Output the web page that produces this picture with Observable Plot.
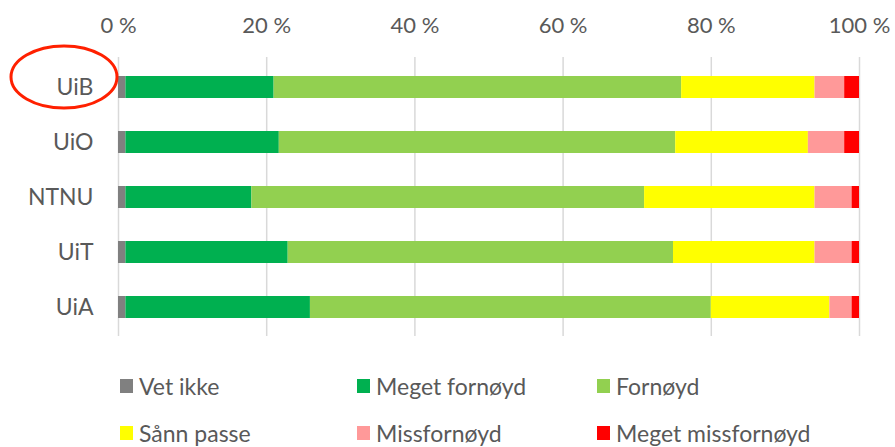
<!DOCTYPE html>
<html>
<head>
<meta charset="utf-8">
<script src="https://cdn.jsdelivr.net/npm/d3@7"></script>
<script src="https://cdn.jsdelivr.net/npm/@observablehq/plot@0.6"></script>
<style>
  html, body { margin: 0; padding: 0; background: #fff; }
  #wrap { position: relative; width: 895px; height: 447px; font-family: Lato, "Open Sans", sans-serif; color: #595959; }
  #legend { position: absolute; left: 0; top: 0; width: 895px; height: 447px; pointer-events: none; }
  .li { position: absolute; display: flex; align-items: center; font-size: 23px; line-height: 26px; white-space: nowrap; }
  .sw { width: 13px; height: 14px; margin-right: 6px; display: inline-block; }
</style>
</head>
<body>
<div id="wrap"><div id="chart"></div><div id="legend"></div></div>
<script>
const universities = ["UiB", "UiO", "NTNU", "UiT", "UiA"];
const categories = ["Vet ikke", "Meget fornøyd", "Fornøyd", "Sånn passe", "Missfornøyd", "Meget missfornøyd"];
const colors = ["#808080", "#00B050", "#92D050", "#FFFF00", "#FF9999", "#FF0000"];
const vetIkke = [1, 1, 1, 1, 1];
const megetFornoyd = [20, 20.7, 17, 21.9, 24.9];
const fornoyd = [55, 53.5, 53, 52, 54.1];
const sannPasse = [18, 17.9, 23, 19.1, 16];
const missfornoyd = [4, 4.9, 5, 5, 3];
const megetMissfornoyd = [2, 2, 1, 1, 1];
const xTicks = [0, 20, 40, 60, 80, 100];

const series = [vetIkke, megetFornoyd, fornoyd, sannPasse, missfornoyd, megetMissfornoyd];
const rows = [];
universities.forEach((u, i) => {
  categories.forEach((c, j) => rows.push({uni: u, category: c, value: series[j][i]}));
});

const chart = Plot.plot({
  width: 895,
  height: 347,
  marginLeft: 118,
  marginRight: 36,
  marginTop: 57,
  marginBottom: 11,
  style: {fontFamily: "Lato, 'Open Sans', sans-serif", color: "#595959", background: "#fff"},
  x: {domain: [0, 100], axis: null, label: null},
  y: {domain: universities, paddingInner: 0.605, paddingOuter: 0.3025, axis: null, label: null},
  color: {domain: categories, range: colors},
  marks: [
    Plot.gridX(xTicks, {stroke: "#d9d9d9", strokeOpacity: 1, strokeWidth: 1.5}),
    Plot.barX(rows, Plot.stackX({y: "uni", x: "value", fill: "category", order: null})),
    Plot.axisX({anchor: "top", ticks: xTicks, tickSize: 0, tickPadding: 25, tickFormat: d => d + " %", fontSize: 22, fill: "#595959", label: null}),
    Plot.axisY({tickSize: 0, tickPadding: 25, fontSize: 23, fill: "#595959", label: null})
  ]
});
document.getElementById("chart").appendChild(chart);

// annotation: red ellipse around UiB
d3.select(chart).append("ellipse")
  .attr("cx", 64).attr("cy", 77).attr("rx", 53).attr("ry", 31)
  .attr("fill", "none").attr("stroke", "#FF2000").attr("stroke-width", 3);

// legend
const legendPos = [[120, 386], [357, 386], [597, 386], [120, 433], [357, 433], [597, 433]];
const leg = d3.select("#legend");
categories.forEach((c, i) => {
  const item = leg.append("div").attr("class", "li")
    .style("left", legendPos[i][0] + "px")
    .style("top", (legendPos[i][1] - 13) + "px")
    .style("height", "26px");
  item.append("span").attr("class", "sw").style("background", colors[i]);
  item.append("span").text(c);
});
</script>
</body>
</html>
